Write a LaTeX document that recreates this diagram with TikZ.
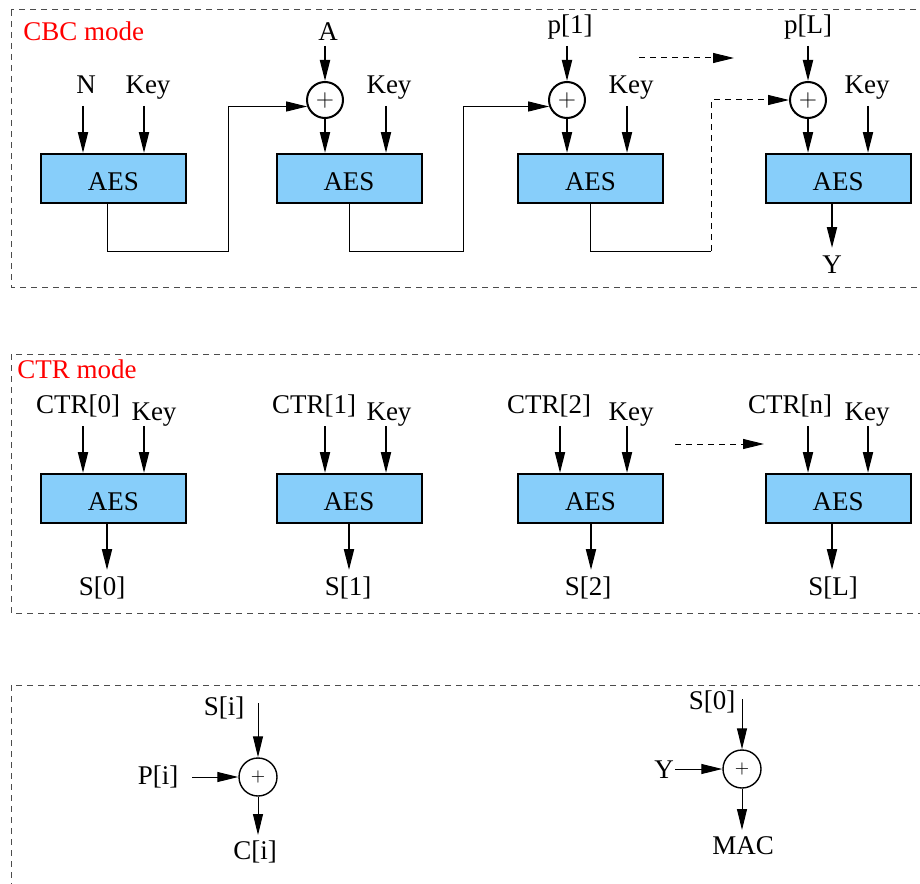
\documentclass[tikz,border=0pt]{standalone}
\usepackage{fontspec}
\setmainfont{Liberation Serif}
\usetikzlibrary{arrows.meta}
\definecolor{aesblue}{RGB}{135,206,250}

\begin{document}
\begin{tikzpicture}[x=0.5pt, y=-0.5pt,
        >={Triangle[length=10.5pt,width=5pt]},
        every node/.style={font=\fontsize{13.5}{16}\selectfont},
        aes/.style={draw, line width=1pt, fill=aesblue, minimum width=72.5pt, minimum height=24.5pt, inner sep=0pt, text height=12.6pt},
        xor/.style={draw, circle, line width=1pt, minimum size=18pt, inner sep=0pt, font=\fontsize{12.5}{12.5}\selectfont},
        xorsmall/.style={draw, circle, line width=0.7pt, minimum size=19pt, inner sep=0pt, font=\fontsize{9.5}{9.5}\selectfont},
        lbl/.style={inner sep=0pt},
        sig/.style={->, line width=1pt},
        thinsig/.style={->, line width=0.5pt},
        wire/.style={line width=0.5pt},
        dashline/.style={line width=0.5pt, dash pattern=on 3pt off 2.5pt},
        modebox/.style={draw=black!70, line width=0.5pt, dash pattern=on 3pt off 2.5pt}]
        \useasboundingbox (0,0) rectangle (920,883);
        \clip (0,0) rectangle (920,883);

        % Frames
        \draw[modebox] (11,10) rectangle (940,287);
        \draw[modebox] (11,354) rectangle (940,613);
        \draw[modebox] (11,685) rectangle (940,900);

        % CBC mode
        \node[lbl, text=red, anchor=west] (cbc) at (23,31) {CBC mode};
        \node[aes] (cbc1) at (113.5,178.5) {AES};
        \node[aes] (cbc2) at (349,178.5) {AES};
        \node[aes] (cbc3) at (590.5,178.5) {AES};
        \node[aes] (cbc4) at (838,178.5) {AES};
        \node[xor] (x2) at (325,100) {$+$};
        \node[xor] (x3) at (567,100) {$+$};
        \node[xor] (x4) at (808,100) {$+$};

        % CBC inputs
        \node[lbl] (nonce) at (86,85) {N};
        \node[lbl] (key1) at (148,88) {Key};
        \node[lbl] (ain) at (328,32) {A};
        \node[lbl] (key2) at (389,88) {Key};
        \node[lbl] (p1) at (570,27) {p[1]};
        \node[lbl] (key3) at (631,88) {Key};
        \node[lbl] (pL) at (808,27) {p[L]};
        \node[lbl] (key4) at (867,88) {Key};
        \node[lbl] (yout) at (832,265) {Y};

        \coordinate (nonce-a) at (83,106);
        \coordinate (key1-a) at (144,106);
        \coordinate (ain-a) at (325,46);
        \coordinate (key2-a) at (386,106);
        \coordinate (p1-a) at (567,46);
        \coordinate (key3-a) at (627,106);
        \coordinate (pL-a) at (808,46);
        \coordinate (key4-a) at (868,106);
        \coordinate (yout-a) at (832,248);

        \draw[sig] (nonce-a) -- (nonce-a |- cbc1.north);
        \draw[sig] (key1-a) -- (key1-a |- cbc1.north);
        \draw[sig] (ain-a) -- (x2.north);
        \draw[sig] (x2.south) -- (x2.south |- cbc2.north);
        \draw[sig] (key2-a) -- (key2-a |- cbc2.north);
        \draw[sig] (p1-a) -- (x3.north);
        \draw[sig] (x3.south) -- (x3.south |- cbc3.north);
        \draw[sig] (key3-a) -- (key3-a |- cbc3.north);
        \draw[sig] (pL-a) -- (x4.north);
        \draw[sig] (x4.south) -- (x4.south |- cbc4.north);
        \draw[sig] (key4-a) -- (key4-a |- cbc4.north);
        \draw[sig] (yout-a |- cbc4.south) -- (yout-a);

        % CBC chain
        \coordinate (j1) at (228,251);
        \coordinate (j2) at (463,251);
        \coordinate (j3) at (711,251);
        \draw[wire, ->] ([xshift=-3.25pt]cbc1.south) |- (j1) |- (x2.200);
        \draw[wire, ->] (cbc2.south) |- (j2) |- (x3.200);
        \draw[wire] (cbc3.south) |- (j3);
        \draw[dashline, ->] (j3) |- (x4.west);
        \coordinate (skip1a) at (639,58);
        \coordinate (skip1b) at (734,58);
        \draw[dashline, ->] (skip1a) -- (skip1b);

        % CTR mode
        \node[lbl, text=red, anchor=west] (ctr) at (17,369) {CTR mode};
        \node[aes] (ctr1) at (113.5,498.5) {AES};
        \node[aes] (ctr2) at (349,498.5) {AES};
        \node[aes] (ctr3) at (590.5,498.5) {AES};
        \node[aes] (ctr4) at (838,498.5) {AES};

        \node[lbl] (cnt0) at (78,406) {CTR[0]};
        \node[lbl] (ckey1) at (154,415) {Key};
        \node[lbl] (cnt1) at (314,406) {CTR[1]};
        \node[lbl] (ckey2) at (389,415) {Key};
        \node[lbl] (cnt2) at (549,406) {CTR[2]};
        \node[lbl] (ckey3) at (631,415) {Key};
        \node[lbl] (cntn) at (790,406) {CTR[n]};
        \node[lbl] (ckey4) at (867,415) {Key};
        \node[lbl] (s0) at (102,588) {S[0]};
        \node[lbl] (s1) at (348,588) {S[1]};
        \node[lbl] (s2) at (588,588) {S[2]};
        \node[lbl] (sL) at (833,588) {S[L]};

        \coordinate (cnt0-a) at (83,426);
        \coordinate (ckey1-a) at (144,426);
        \coordinate (cnt1-a) at (325,426);
        \coordinate (ckey2-a) at (386,426);
        \coordinate (cnt2-a) at (560,426);
        \coordinate (ckey3-a) at (627,426);
        \coordinate (cntn-a) at (808,426);
        \coordinate (ckey4-a) at (868,426);
        \coordinate (s0-a) at (107,570);
        \coordinate (s1-a) at (349,570);
        \coordinate (s2-a) at (591,570);
        \coordinate (sL-a) at (832,570);

        \draw[sig] (cnt0-a) -- (cnt0-a |- ctr1.north);
        \draw[sig] (ckey1-a) -- (ckey1-a |- ctr1.north);
        \draw[sig] (cnt1-a) -- (cnt1-a |- ctr2.north);
        \draw[sig] (ckey2-a) -- (ckey2-a |- ctr2.north);
        \draw[sig] (cnt2-a) -- (cnt2-a |- ctr3.north);
        \draw[sig] (ckey3-a) -- (ckey3-a |- ctr3.north);
        \draw[sig] (cntn-a) -- (cntn-a |- ctr4.north);
        \draw[sig] (ckey4-a) -- (ckey4-a |- ctr4.north);
        \draw[sig] (s0-a |- ctr1.south) -- (s0-a);
        \draw[sig] (s1-a |- ctr2.south) -- (s1-a);
        \draw[sig] (s2-a |- ctr3.south) -- (s2-a);
        \draw[sig] (sL-a |- ctr4.south) -- (sL-a);

        \coordinate (skip2a) at (675,444);
        \coordinate (skip2b) at (764,444);
        \draw[dashline, ->] (skip2a) -- (skip2b);

        % Encryption and tag
        \node[xorsmall] (xp) at (258,777) {$+$};
        \node[lbl] (si) at (224,708) {S[i]};
        \node[lbl] (pi) at (158,777) {P[i]};
        \node[lbl] (ci) at (255,852) {C[i]};
        \coordinate (si-a) at (258,703);
        \coordinate (pi-a) at (192,777);
        \coordinate (ci-a) at (258,835);
        \draw[thinsig] (si-a) -- (xp.north);
        \draw[thinsig] (pi-a) -- (xp.west);
        \draw[thinsig] (xp.south) -- (ci-a);

        \node[xorsmall] (xm) at (742,769) {$+$};
        \node[lbl] (s0m) at (712,702) {S[0]};
        \node[lbl] (ym) at (664,770) {Y};
        \node[lbl] (mac) at (743,846) {MAC};
        \coordinate (s0m-a) at (742,699);
        \coordinate (ym-a) at (675,769);
        \coordinate (mac-a) at (742,830);
        \draw[thinsig] (s0m-a) -- (xm.north);
        \draw[thinsig] (ym-a) -- (xm.west);
        \draw[thinsig] (xm.south) -- (mac-a);
\end{tikzpicture}
\end{document}
